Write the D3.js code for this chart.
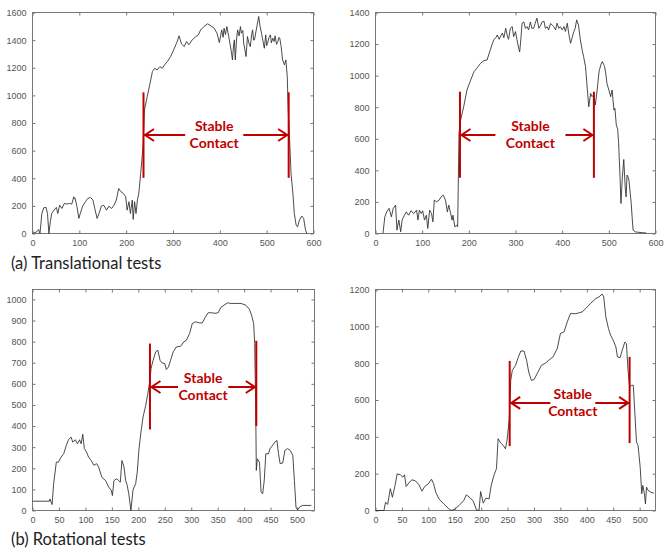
<!DOCTYPE html>
<html>
<head>
<meta charset="utf-8">
<script src="https://cdn.jsdelivr.net/npm/d3@7"></script>
<style>
  body { margin: 0; background: #fff; }
  svg { display: block; }
</style>
</head>
<body>
<svg id="chart" width="668" height="552"></svg>
<script>
// ---- data: [sample, force] ----
const transA = [[0,0],[9,12],[13,29],[16,0],[20,145],[24,186],[29,189],[32,145],[35,0],[38,85],[41,145],[46,169],[51,189],[54,145],[58,205],[63,181],[68,218],[74,213],[79,218],[84,213],[88,266],[90,250],[91,254],[95,193],[99,109],[102,145],[107,198],[113,230],[118,254],[124,261],[129,242],[133,181],[138,109],[142,145],[147,198],[152,205],[158,169],[163,198],[169,181],[174,205],[179,242],[184,326],[189,302],[194,290],[199,266],[202,169],[206,230],[209,145],[213,242],[215,102],[218,230],[221,145],[224,242],[227,290],[231,435],[236,628],[239,894],[245,991],[251,1088],[256,1172],[261,1196],[266,1184],[272,1208],[277,1196],[282,1221],[288,1245],[295,1281],[302,1334],[308,1382],[313,1431],[318,1373],[324,1353],[329,1390],[334,1366],[341,1402],[349,1426],[354,1438],[359,1474],[366,1498],[374,1518],[381,1503],[388,1486],[394,1450],[399,1382],[404,1474],[407,1420],[409,1486],[412,1440],[415,1498],[419,1426],[424,1329],[427,1257],[429,1350],[431,1402],[433,1257],[436,1420],[438,1474],[441,1430],[444,1498],[446,1450],[449,1470],[451,1378],[456,1281],[459,1426],[462,1380],[465,1353],[468,1440],[470,1474],[472,1400],[474,1402],[477,1460],[479,1498],[483,1571],[486,1498],[489,1450],[491,1414],[495,1341],[498,1438],[500,1360],[502,1378],[505,1420],[508,1438],[510,1380],[513,1414],[516,1390],[518,1431],[521,1370],[524,1390],[526,1420],[528,1414],[531,1353],[534,1257],[538,1221],[541,1257],[544,1136],[546,894],[549,677],[552,435],[556,290],[559,145],[563,60],[566,48],[570,97],[575,126],[579,109],[583,24],[586,0]];

const transB = [[16,0],[20,106],[24,137],[29,159],[34,106],[38,159],[43,180],[46,21],[50,85],[54,11],[57,85],[62,116],[66,137],[71,116],[76,144],[82,127],[88,148],[91,85],[94,148],[98,127],[101,144],[105,85],[109,116],[112,32],[116,148],[120,127],[123,74],[126,211],[131,201],[136,211],[141,233],[145,243],[150,211],[154,137],[157,180],[161,127],[164,85],[166,116],[170,42],[174,53],[176,42],[179,634],[181,700],[184,740],[189,803],[196,909],[204,972],[211,1025],[218,1050],[225,1078],[232,1095],[239,1099],[246,1163],[250,1200],[254,1230],[258,1240],[261,1258],[265,1230],[268,1250],[272,1270],[275,1240],[279,1300],[282,1258],[285,1230],[289,1300],[293,1311],[296,1247],[300,1279],[303,1230],[307,1170],[309,1150],[312,1250],[314,1332],[318,1340],[321,1300],[325,1310],[328,1290],[332,1340],[335,1300],[339,1300],[342,1330],[346,1364],[350,1300],[354,1320],[357,1340],[361,1345],[364,1300],[368,1310],[371,1290],[375,1330],[379,1320],[382,1310],[386,1290],[389,1332],[393,1300],[396,1310],[400,1290],[404,1311],[407,1280],[411,1332],[414,1268],[418,1205],[421,1237],[425,1279],[428,1300],[431,1353],[435,1320],[439,1226],[443,1160],[446,1120],[450,1057],[454,909],[457,803],[461,888],[464,867],[468,880],[471,814],[475,909],[479,1025],[483,1070],[486,1089],[489,1070],[491,1057],[494,1000],[496,951],[500,909],[504,867],[507,909],[511,782],[513,793],[516,687],[519,660],[521,571],[524,359],[526,190],[529,359],[532,469],[535,296],[537,232],[539,370],[541,360],[543,338],[546,250],[548,190],[550,100],[552,21],[557,10],[575,4],[580,4]];

const rotA = [[0,44],[32,44],[33,55],[37,28],[40,127],[45,229],[49,229],[54,253],[59,269],[64,309],[68,335],[73,348],[76,324],[81,335],[85,316],[89,335],[92,316],[95,361],[98,293],[102,277],[106,253],[111,237],[116,214],[121,222],[125,206],[131,158],[138,142],[144,111],[149,95],[151,71],[154,142],[159,150],[163,142],[166,134],[169,237],[173,206],[176,142],[179,119],[182,79],[186,0],[190,98],[195,127],[198,182],[201,285],[205,372],[209,443],[214,498],[218,554],[222,617],[224,672],[228,712],[233,752],[237,759],[241,712],[245,699],[250,696],[253,668],[257,680],[261,712],[266,752],[272,775],[280,778],[286,799],[291,807],[297,839],[302,886],[308,894],[315,889],[321,889],[326,913],[332,937],[338,937],[345,934],[351,937],[356,962],[362,973],[369,984],[374,981],[381,981],[394,981],[403,973],[410,953],[414,926],[418,886],[420,791],[422,459],[423,190],[425,245],[429,229],[432,87],[435,79],[438,142],[441,269],[446,269],[449,293],[454,309],[458,324],[462,332],[465,269],[468,222],[473,225],[477,285],[482,293],[487,285],[492,261],[495,142],[498,16],[501,3],[506,19],[511,24],[527,24]];

const rotB = [[0,0],[16,0],[19,45],[23,33],[28,118],[32,72],[37,136],[41,199],[47,194],[52,181],[55,194],[58,130],[63,149],[69,167],[76,160],[82,141],[88,105],[93,130],[100,145],[106,170],[110,145],[114,100],[120,63],[129,36],[139,9],[143,0],[150,7],[158,27],[167,54],[172,85],[179,69],[185,51],[191,4],[196,0],[199,103],[204,40],[209,67],[215,63],[219,136],[224,190],[229,227],[232,390],[237,366],[242,353],[246,335],[249,381],[253,489],[256,707],[259,761],[265,788],[270,830],[275,866],[281,866],[286,816],[290,752],[295,707],[300,711],[306,743],[314,788],[322,801],[328,816],[336,834],[344,879],[350,961],[357,970],[363,1024],[369,1069],[379,1069],[385,1073],[391,1078],[398,1097],[407,1124],[417,1151],[423,1160],[429,1175],[432,1160],[436,1051],[441,988],[445,952],[450,924],[455,888],[458,834],[463,830],[467,870],[472,915],[475,906],[478,761],[481,671],[485,680],[488,680],[491,526],[494,372],[497,353],[501,236],[504,91],[506,136],[509,91],[511,36],[513,127],[516,109],[521,100],[527,94]];

// stable-contact markers: [x, yLow, yHigh]
const markA = [[237,403,1022],[547,403,1022]];
const markB = [[181,353,898],[468,353,898]];
const markC = [[222,384,791],[423,400,804]];
const markD = [[254,350,812],[481,366,834]];
// arrow level and the gap left for the label [y, gapStart, gapEnd]
const arrowA = [713,326,450];
const arrowB = [624,257,407];
const arrowC = [585,275,370];
const arrowD = [584,331,416];

const xTicks600 = d3.range(0, 601, 100);
const xTicks500 = d3.range(0, 501, 50);

const panels = [
  {data: transA, box: [32.5, 12.5, 313.5, 233.5], x: [0,600], y: [0,1600], xt: xTicks600, yt: d3.range(0,1601,200), mark: markA, arrow: arrowA},
  {data: transB, box: [375.5, 12.5, 655.5, 233.5], x: [0,600], y: [0,1400], xt: xTicks600, yt: d3.range(0,1401,200), mark: markB, arrow: arrowB},
  {data: rotA, box: [32.5, 289.5, 314.5, 510.5], x: [0,533], y: [0,1047], xt: xTicks500, yt: d3.range(0,1001,100), mark: markC, arrow: arrowC},
  {data: rotB, box: [375.5, 289.5, 655.5, 510.5], x: [0,530], y: [0,1200], xt: xTicks500, yt: d3.range(0,1201,200), mark: markD, arrow: arrowD}
];

const red = "#c00000";
const svg = d3.select("#chart");

panels.forEach(p => {
  const [l, t, r, b] = p.box;
  const x = d3.scaleLinear().domain(p.x).range([l, r]);
  const y = d3.scaleLinear().domain(p.y).range([b, t]);
  const g = svg.append("g");

  // frame
  g.append("rect")
    .attr("x", l).attr("y", t)
    .attr("width", r - l).attr("height", b - t)
    .attr("fill", "none").attr("stroke", "#777").attr("stroke-width", 1);

  // axes with inward ticks, mirrored on top/right
  const fmt = d3.format("d");
  const axStyle = a => {
    a.select(".domain").remove();
    a.selectAll(".tick line").attr("stroke", "#777");
    a.selectAll(".tick text").attr("fill", "#555")
      .style("font-family", "'Liberation Sans', Arial, sans-serif").style("font-size", "9px");
  };
  g.append("g").attr("transform", `translate(0,${b})`)
    .call(d3.axisBottom(x).tickValues(p.xt).tickFormat(fmt).tickSizeInner(-3).tickPadding(6))
    .call(axStyle);
  g.append("g").attr("transform", `translate(0,${t})`)
    .call(d3.axisTop(x).tickValues(p.xt).tickFormat("").tickSizeInner(-3))
    .call(axStyle);
  g.append("g").attr("transform", `translate(${l},0)`)
    .call(d3.axisLeft(y).tickValues(p.yt).tickFormat(fmt).tickSizeInner(-3).tickPadding(6))
    .call(axStyle);
  g.append("g").attr("transform", `translate(${r},0)`)
    .call(d3.axisRight(y).tickValues(p.yt).tickFormat("").tickSizeInner(-3))
    .call(axStyle);

  // signal
  const line = d3.line().x(d => x(d[0])).y(d => y(d[1]));
  g.append("path")
    .attr("d", line(p.data))
    .attr("fill", "none")
    .attr("stroke", "#2a2a2a")
    .attr("stroke-width", 0.85)
    .attr("stroke-linejoin", "round");

  // stable contact markers
  g.selectAll(".mark").data(p.mark).join("line")
    .attr("x1", d => x(d[0])).attr("x2", d => x(d[0]))
    .attr("y1", d => y(d[1])).attr("y2", d => y(d[2]))
    .attr("stroke", red).attr("stroke-width", 2);

  const [ay, gs, ge] = p.arrow;
  const x0 = x(p.mark[0][0]), x1 = x(p.mark[1][0]), yy = y(ay);
  const seg = [[x0 + 1, x(gs)], [x(ge), x1 - 1]];
  g.selectAll(".arr").data(seg).join("line")
    .attr("x1", d => d[0]).attr("x2", d => d[1])
    .attr("y1", yy).attr("y2", yy)
    .attr("stroke", red).attr("stroke-width", 2);
  // open arrow heads
  const head = (tip, dir) => `M${tip + dir * 9},${yy - 6}L${tip},${yy}L${tip + dir * 9},${yy + 6}`;
  g.append("path").attr("d", head(x0 + 1.5, 1))
    .attr("fill", "none").attr("stroke", red).attr("stroke-width", 2);
  g.append("path").attr("d", head(x1 - 1.5, -1))
    .attr("fill", "none").attr("stroke", red).attr("stroke-width", 2);

  const cx = (x(gs) + x(ge)) / 2;
  ["Stable", "Contact"].forEach((s, i) => {
    g.append("text")
      .attr("x", cx).attr("y", yy + (i === 0 ? -8 : 9))
      .attr("text-anchor", "middle")
      .attr("dominant-baseline", "middle")
      .attr("fill", red)
      .style("font-family", "Lato, 'Open Sans', sans-serif")
      .style("font-weight", "bold")
      .style("font-size", "14px")
      .text(s);
  });
});

// captions
const captions = [["(a) Translational tests", 269], ["(b) Rotational tests", 545]];
svg.selectAll(".cap").data(captions).join("text")
  .attr("x", 11).attr("y", d => d[1])
  .attr("fill", "#222")
  .style("font-family", "Lato, 'Open Sans', sans-serif")
  .style("font-size", "16.5px")
  .text(d => d[0]);
</script>
</body>
</html>
